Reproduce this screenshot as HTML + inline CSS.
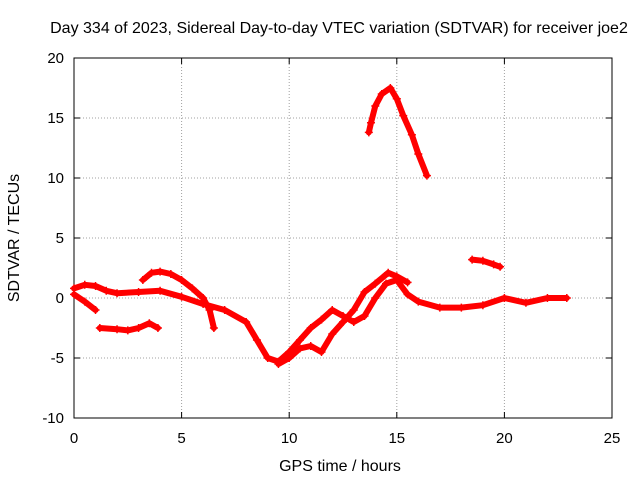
<!DOCTYPE html>
<html><head><meta charset="utf-8"><style>
body{margin:0;background:#fff;}
svg{display:block;font-family:"Liberation Sans",sans-serif;}
</style></head><body>
<svg id="chart" width="640" height="480" viewBox="0 0 640 480">
<rect width="640" height="480" fill="#fff"/>
<text x="339" y="33" font-size="16" text-anchor="middle">Day 334 of 2023, Sidereal Day-to-day VTEC variation (SDTVAR) for receiver joe2</text>
<g id="grid"></g>
<g id="axes"></g>
<g id="series"></g>
<text x="340" y="471" font-size="16" text-anchor="middle">GPS time / hours</text>
<text transform="translate(19,238) rotate(-90)" font-size="16" text-anchor="middle">SDTVAR / TECUs</text>
</svg>
<script>
const xTicks=[0,5,10,15,20,25];
const yTicks=[-10,-5,0,5,10,15,20];
const trackHigh=[[13.7,13.8],[13.8,14.6],[14,16],[14.3,17],[14.7,17.5],[15,16.6],[15.3,15.2],[15.7,13.6],[16,12],[16.4,10.2]];
const trackLate=[[18.5,3.2],[19,3.1],[19.5,2.8],[19.8,2.6]];
const trackLow=[[1.2,-2.5],[2,-2.6],[2.5,-2.7],[3,-2.5],[3.5,-2.1],[3.9,-2.5]];
const trackMain=[[0,0.8],[0.5,1.1],[1,1],[1.5,0.6],[2,0.4],[3,0.5],[4,0.6],[5,0.1],[6,-0.5],[7,-1],[8,-2],[8.5,-3.5],[9,-5],[9.5,-5.3],[10,-4.5],[10.5,-3.5],[11,-2.5],[11.5,-1.8],[12,-1],[12.5,-1.5],[13,-2],[13.5,-1.5],[14,0],[14.5,1.2],[15,1.5],[15.5,0.3],[16,-0.3],[17,-0.8],[18,-0.8],[19,-0.6],[20,0],[21,-0.4],[22,0],[22.9,0]];
const trackArc=[[3.2,1.5],[3.6,2.1],[4,2.2],[4.5,2],[5,1.5],[5.5,0.8],[6,0],[6.3,-1],[6.5,-2.5]];
const trackStart=[[0,0.3],[0.5,-0.3],[1,-1]];
const trackMid=[[9.5,-5.5],[10,-5],[10.5,-4.2],[11,-4],[11.5,-4.5],[12,-3],[12.5,-2],[13,-1],[13.5,0.5],[14,1.2],[14.6,2.1],[15,1.8],[15.5,1.3]];
const allTracks=[trackHigh,trackLate,trackLow,trackMain,trackArc,trackStart,trackMid];
const X0=74,X1=612,Y0=418,Y1=58;
const sx=v=>X0+(v-0)/(25-0)*(X1-X0);
const sy=v=>Y0-(v+10)/(30)*(Y0-Y1);
const NS="http://www.w3.org/2000/svg";
function mk(tag,attrs,parent){const e=document.createElementNS(NS,tag);for(const k in attrs)e.setAttribute(k,attrs[k]);parent.appendChild(e);return e;}
const grid=document.getElementById('grid'),axes=document.getElementById('axes'),ser=document.getElementById('series');
xTicks.forEach(t=>{
 const x=sx(t);
 if(t>0&&t<25){const l=mk('line',{x1:x,x2:x,y1:Y1,y2:Y0,stroke:'#a0a0a0','stroke-dasharray':'1,2'},grid);
 
 }
 const tk=mk('path',{d:`M${x},${Y0}v-6M${x},${Y1}v6`,stroke:'#000'},axes);
 
 
 const tx=mk('text',{x:x,y:Y0+25,'font-size':15,'text-anchor':'middle'},axes);tx.textContent=t;
 
 
});
yTicks.forEach(t=>{
 const y=sy(t);
 if(t>-10&&t<20){const l=mk('line',{x1:X0,x2:X1,y1:y,y2:y,stroke:'#a0a0a0','stroke-dasharray':'1,2'},grid);
 
 }
 const tk=mk('path',{d:`M${X0},${y}h6M${X1},${y}h-6`,stroke:'#000'},axes);
 
 
 const tx=mk('text',{x:X0-10,y:y+5,'font-size':15,'text-anchor':'end'},axes);tx.textContent=t;
 
 
});
const fr=mk('rect',{x:X0,y:Y1,width:X1-X0,height:Y0-Y1,fill:'none',stroke:'#000'},axes);


allTracks.forEach(tr=>{
 const pl=mk('polyline',{points:tr.map(p=>sx(p[0])+','+sy(p[1])).join(' '),fill:'none',stroke:'#ff0000','stroke-width':6,'stroke-linejoin':'round','stroke-linecap':'round'},ser);
 
 
 tr.forEach(p=>{
  const x=sx(p[0]),y=sy(p[1]);
  const m=mk('path',{d:`M${x-4},${y}h8M${x},${y-4}v8`,stroke:'#ff0000','stroke-width':1.5},ser);
  
  
 });
});
</script>
</body></html>
